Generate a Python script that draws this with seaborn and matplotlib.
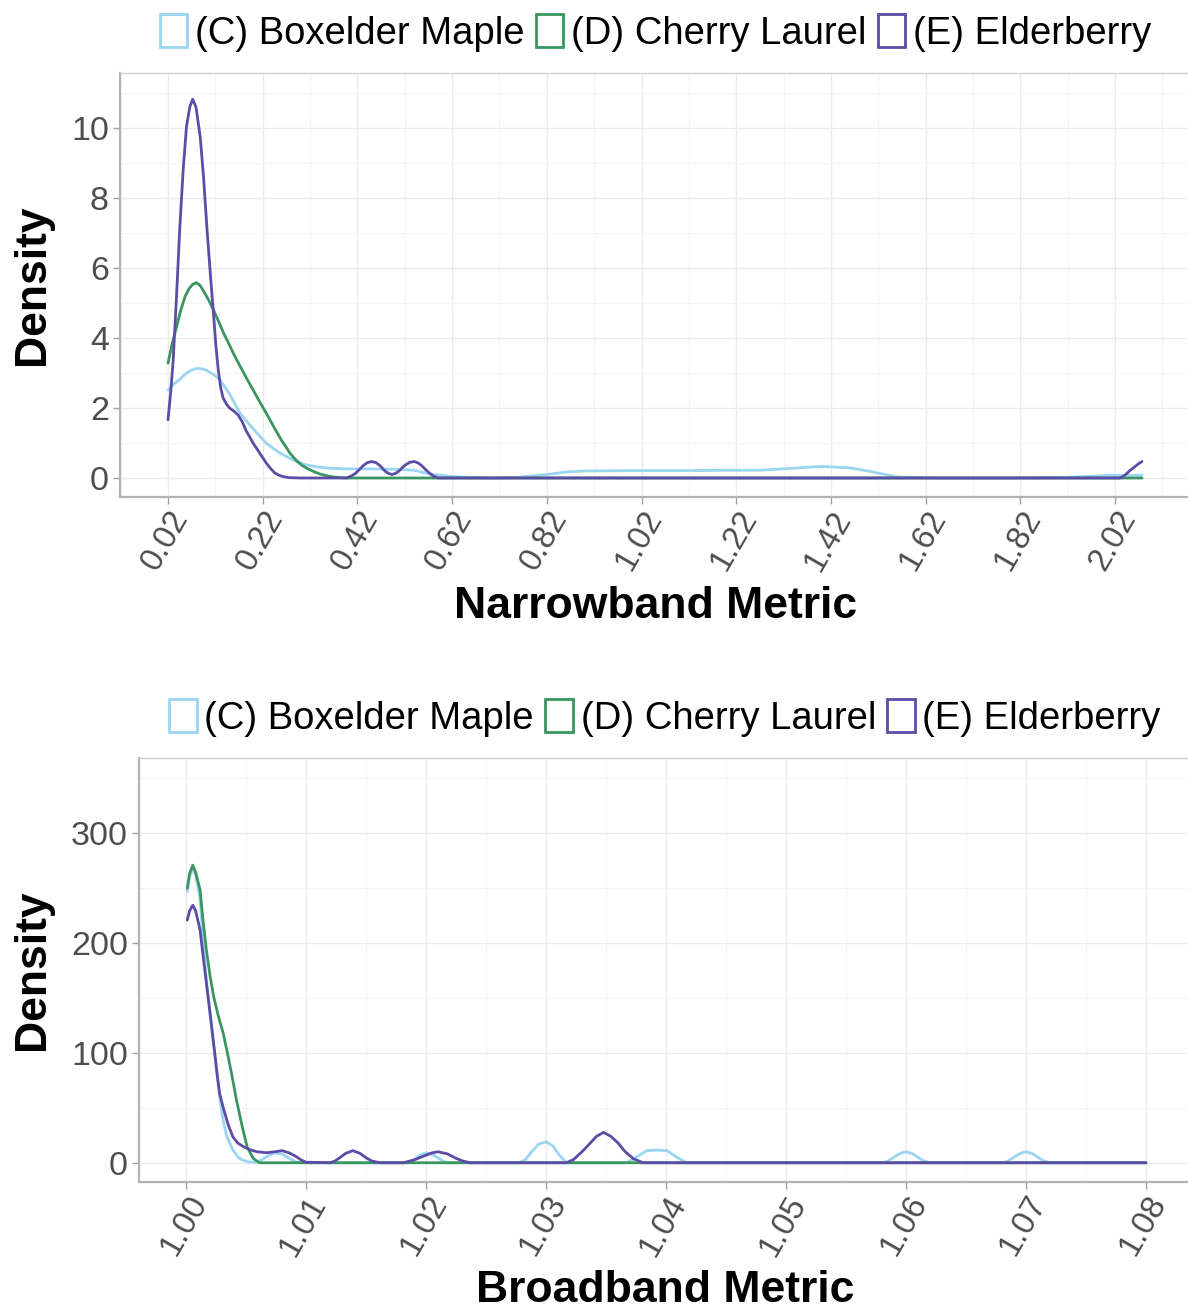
import matplotlib
matplotlib.use("Agg")
import matplotlib.pyplot as plt
from matplotlib.patches import Rectangle
from matplotlib.ticker import FixedLocator
import seaborn as sns
import pandas as pd

# ---------------- data ----------------
species = ["(C) Boxelder Maple", "(D) Cherry Laurel", "(E) Elderberry"]
colors = ["#9AD5F2", "#3A9560", "#5B4CA6"]

# Narrowband metric density curves
nb_x_boxelder = [0.02, 0.032, 0.045, 0.055, 0.065, 0.075, 0.084, 0.095, 0.105, 0.118, 0.13, 0.15,
                 0.172, 0.20, 0.228, 0.255, 0.285, 0.31, 0.334, 0.36, 0.40, 0.45, 0.50, 0.54,
                 0.57, 0.62, 0.70, 0.76, 0.82, 0.86, 0.90, 1.0, 1.1, 1.2, 1.27, 1.33, 1.40,
                 1.46, 1.51, 1.56, 1.65, 1.80, 1.92, 2.0, 2.077]
nb_y_boxelder = [2.51, 2.68, 2.82, 2.95, 3.05, 3.11, 3.13, 3.11, 3.05, 2.94, 2.8, 2.4,
                 1.85, 1.4, 0.99, 0.72, 0.51, 0.38, 0.32, 0.28, 0.26, 0.26, 0.25, 0.22,
                 0.12, 0.04, 0.0, 0.02, 0.1, 0.17, 0.2, 0.21, 0.21, 0.22, 0.22, 0.27, 0.33,
                 0.29, 0.17, 0.03, 0.0, 0.0, 0.02, 0.07, 0.08]

nb_x_cherry = [0.02, 0.029, 0.038, 0.047, 0.056, 0.064, 0.072, 0.08, 0.088, 0.096, 0.106, 0.116,
               0.127, 0.137, 0.148, 0.158, 0.17, 0.18, 0.19, 0.20, 0.211, 0.222, 0.233, 0.243,
               0.252, 0.26, 0.27, 0.278, 0.287, 0.295, 0.304, 0.313, 0.322, 0.33, 0.34, 0.348,
               0.36, 0.37, 0.385, 0.40, 0.6, 1.0, 1.5, 2.077]
nb_y_cherry = [3.28, 3.85, 4.32, 4.8, 5.18, 5.4, 5.53, 5.58, 5.5, 5.32, 5.08, 4.8,
               4.47, 4.15, 3.85, 3.56, 3.25, 3.0, 2.75, 2.51, 2.24, 1.98, 1.72, 1.47,
               1.26, 1.07, 0.87, 0.7, 0.56, 0.45, 0.35, 0.28, 0.22, 0.17, 0.12, 0.09,
               0.05, 0.03, 0.01, 0.0, 0.0, 0.0, 0.0, 0.0]

nb_x_elder = [0.02, 0.026, 0.031, 0.038, 0.045, 0.052, 0.059, 0.066, 0.072, 0.079, 0.088, 0.095,
              0.102, 0.109, 0.116, 0.121, 0.126, 0.131, 0.136, 0.143, 0.15, 0.16, 0.168, 0.177,
              0.185, 0.193, 0.20, 0.208, 0.215, 0.222, 0.228, 0.236, 0.245, 0.254, 0.263, 0.275,
              0.30, 0.35, 0.397, 0.406, 0.415, 0.424, 0.432, 0.441, 0.45, 0.459, 0.468, 0.478,
              0.486, 0.493, 0.500, 0.508, 0.515, 0.522, 0.531, 0.54, 0.548, 0.556, 0.564, 0.572,
              0.581, 0.59, 0.70, 1.0, 1.5, 2.03, 2.038, 2.045, 2.052, 2.06, 2.068, 2.077]
nb_y_elder = [1.66, 2.5, 3.37, 5.2, 7.18, 8.8, 10.04, 10.6, 10.82, 10.6, 9.75, 8.6,
              7.18, 5.9, 4.7, 3.8, 3.1, 2.6, 2.3, 2.12, 2.0, 1.9, 1.8, 1.6,
              1.35, 1.16, 0.99, 0.83, 0.68, 0.54, 0.42, 0.28, 0.15, 0.08, 0.04, 0.01,
              0.0, 0.0, 0.0, 0.05, 0.12, 0.24, 0.35, 0.44, 0.47, 0.44, 0.35, 0.2,
              0.13, 0.1, 0.13, 0.2, 0.3, 0.38, 0.45, 0.47, 0.43, 0.35, 0.24, 0.14,
              0.05, 0.0, 0.0, 0.0, 0.0, 0.0, 0.05, 0.13, 0.22, 0.3, 0.39, 0.47]

# Broadband metric density curves
bb_x_boxelder = [1.0001, 1.0003, 1.00056, 1.0008, 1.00117, 1.0014, 1.0017, 1.002, 1.0023, 1.0026,
                 1.0028, 1.0031, 1.0034, 1.0039, 1.0044, 1.0048, 1.0053, 1.0058, 1.0063, 1.0068,
                 1.0074, 1.008, 1.0086, 1.0092, 1.0096, 1.0185, 1.019, 1.0195, 1.02, 1.0206,
                 1.0212, 1.0217, 1.0278, 1.0283, 1.0288, 1.0294, 1.03, 1.0306, 1.0311, 1.0317,
                 1.0367, 1.0375, 1.0384, 1.0392, 1.0401, 1.0409, 1.0417, 1.058, 1.0585, 1.059,
                 1.0595, 1.06, 1.0605, 1.061, 1.0615, 1.062, 1.068, 1.0685, 1.069, 1.0695,
                 1.07, 1.0705, 1.071, 1.0715, 1.072, 1.08]
bb_y_boxelder = [246.5, 260, 267, 262, 240, 205, 165, 136, 106, 78,
                 60, 38, 24, 11.5, 4.5, 2, 0.5, 0.5, 2.5, 6,
                 9, 8, 4, 0.5, 0, 0, 3, 7, 9, 7,
                 3, 0, 0, 3, 10, 17, 19, 15, 7, 0,
                 0, 5, 11, 11.5, 11, 5, 0, 0, 1.5, 5,
                 8.5, 10, 8.5, 5, 1.5, 0, 0, 1.5, 5, 8.5,
                 10, 8.5, 5, 1.5, 0, 0]

bb_x_cherry = [1.0001, 1.0003, 1.00056, 1.0008, 1.00117, 1.0014, 1.0017, 1.002, 1.0023, 1.0027,
               1.0031, 1.0035, 1.0039, 1.0042, 1.0047, 1.0051, 1.0056, 1.0061, 1.01, 1.03,
               1.05, 1.08]
bb_y_cherry = [249.5, 263, 270.5, 264, 248, 222, 193, 170, 151, 133,
               117.6, 97, 75, 57, 32, 14, 4, 0, 0, 0,
               0, 0]

bb_x_elder = [1.0001, 1.0003, 1.00056, 1.0008, 1.00117, 1.0014, 1.0017, 1.002, 1.0023, 1.0026,
              1.0028, 1.0031, 1.0035, 1.0039, 1.0043, 1.0048, 1.0053, 1.0059, 1.0067, 1.0074,
              1.008, 1.0086, 1.0092, 1.0096, 1.01, 1.012, 1.0124, 1.0128, 1.0133, 1.0139,
              1.0145, 1.015, 1.0155, 1.0162, 1.0181, 1.019, 1.0198, 1.0205, 1.021, 1.0218,
              1.0225, 1.0231, 1.0237, 1.0317, 1.0323, 1.033, 1.0337, 1.0342, 1.0348, 1.0354,
              1.036, 1.0366, 1.0373, 1.0381, 1.05, 1.08]
bb_y_elder = [220.6, 229, 234, 229, 211.5, 190, 163, 136, 108.5, 80,
              63, 50, 35, 23.6, 18, 14.5, 12, 10, 9.1, 10,
              11, 9, 5.5, 2.5, 0.5, 0, 1.5, 4.5, 8.5, 11,
              8.5, 4.5, 1.5, 0, 0, 2.5, 6, 9, 10, 8,
              4, 1.5, 0, 0, 3, 10, 18, 24, 27.6, 24,
              18, 10, 3.5, 0, 0, 0]

nb_ticks = [0.02, 0.22, 0.42, 0.62, 0.82, 1.02, 1.22, 1.42, 1.62, 1.82, 2.02]
nb_tick_labels = ["0.02", "0.22", "0.42", "0.62", "0.82", "1.02", "1.22", "1.42", "1.62", "1.82", "2.02"]
nb_yticks = [0, 2, 4, 6, 8, 10]
bb_ticks = [1.00, 1.01, 1.02, 1.03, 1.04, 1.05, 1.06, 1.07, 1.08]
bb_tick_labels = ["1.00", "1.01", "1.02", "1.03", "1.04", "1.05", "1.06", "1.07", "1.08"]
bb_yticks = [0, 100, 200, 300]


def long_frame(xs, ys):
    rows = []
    for sp, x, y in zip(species, xs, ys):
        rows.append(pd.DataFrame({"species": sp, "x": x, "y": y}))
    return pd.concat(rows, ignore_index=True)


nb_df = long_frame([nb_x_boxelder, nb_x_cherry, nb_x_elder], [nb_y_boxelder, nb_y_cherry, nb_y_elder])
bb_df = long_frame([bb_x_boxelder, bb_x_cherry, bb_x_elder], [bb_y_boxelder, bb_y_cherry, bb_y_elder])

# ---------------- styling ----------------
sns.set_theme(style="white")
plt.rcParams["font.family"] = ["Liberation Sans", "DejaVu Sans"]

W, H = 1188, 1314
fig = plt.figure(figsize=(W / 100, H / 100), dpi=100)
fig.patch.set_facecolor("white")


def px_axes(left, top, right, bottom):
    return fig.add_axes([left / W, 1 - bottom / H, (right - left) / W, (bottom - top) / H])


ax1 = px_axes(120, 73, 1191, 497)
ax2 = px_axes(139, 758, 1191, 1182)

palette = dict(zip(species, colors))


def draw(ax, df, xlim, ylim, xt, xtl, yt, xminor, yminor, xlabel):
    sns.lineplot(data=df, x="x", y="y", hue="species", palette=palette, hue_order=species,
                 estimator=None, sort=False, lw=2.0, legend=False, ax=ax, zorder=3)
    for ln in ax.get_lines():
        ln.set_solid_joinstyle("round")
        ln.set_solid_capstyle("round")
    ax.set_xlim(*xlim)
    ax.set_ylim(*ylim)
    ax.set_xticks(xt)
    ax.set_xticklabels(xtl)
    ax.set_yticks(yt)
    ax.set_yticklabels([str(v) for v in yt])
    ax.xaxis.set_minor_locator(FixedLocator(xminor))
    ax.yaxis.set_minor_locator(FixedLocator(yminor))
    ax.grid(True, which="major", color="#EBEBEB", lw=1.0, zorder=0)
    ax.grid(True, which="minor", color="#F5F5F5", lw=0.8, zorder=0)
    ax.set_axisbelow(True)
    for s in ["top", "right"]:
        ax.spines[s].set_color("#D0D0D0")
        ax.spines[s].set_linewidth(1.0)
    for s in ["left", "bottom"]:
        ax.spines[s].set_color("#B3B3B3")
        ax.spines[s].set_linewidth(1.6)
    ax.tick_params(axis="both", which="major", length=5, width=1.0, color="#A0A0A0",
                   labelcolor="#4D4D4D", bottom=True, left=True)
    ax.tick_params(axis="y", labelsize=24.5, pad=3)
    ax.tick_params(axis="x", labelsize=23.5, pad=1)
    ax.tick_params(axis="both", which="minor", length=0)
    for lab in ax.get_xticklabels():
        lab.set_rotation(60)
        lab.set_ha("right")
        lab.set_va("top")
        lab.set_rotation_mode("anchor")
    ax.set_xlabel(xlabel, fontsize=32, fontweight="bold", color="black")
    ax.set_ylabel("Density", fontsize=32, fontweight="bold", color="black")
    handles = [Rectangle((0, 0), 1, 1, facecolor="white", edgecolor=c, lw=2.0) for c in colors]
    leg = ax.legend(handles, species, loc="center", bbox_to_anchor=(0.5, 1 + 40 / 424), ncol=3,
                    frameon=False, fontsize=27.5, handlelength=0.72, handleheight=0.95,
                    handletextpad=0.2, columnspacing=0.3, borderaxespad=0, borderpad=0)
    for t in leg.get_texts():
        t.set_color("black")


draw(ax1, nb_df, (-0.0814, 2.1805), (-0.543, 11.57), nb_ticks, nb_tick_labels, nb_yticks,
     [-0.08 + 0.2 * i for i in range(12)], [1, 3, 5, 7, 9, 11], "Narrowband Metric")
draw(ax2, bb_df, (0.99608, 1.08375), (-17.5, 367.9), bb_ticks, bb_tick_labels, bb_yticks,
     [0.995 + 0.01 * i for i in range(10)], [50, 150, 250, 350], "Broadband Metric")

# axis title placement (centres measured in the reference)
ax1.xaxis.set_label_coords(0.5, (497 - 607) / 424)
ax1.xaxis.label.set_va("center")
ax1.yaxis.set_label_coords((32 - 120) / 1071, 0.5)
ax1.yaxis.label.set_va("center")
ax2.xaxis.set_label_coords(0.5, (1182 - 1290) / 424)
ax2.xaxis.label.set_va("center")
ax2.yaxis.set_label_coords((32 - 139) / 1052, 0.5)
ax2.yaxis.label.set_va("center")

fig.savefig("out.png", dpi=100, facecolor="white")
